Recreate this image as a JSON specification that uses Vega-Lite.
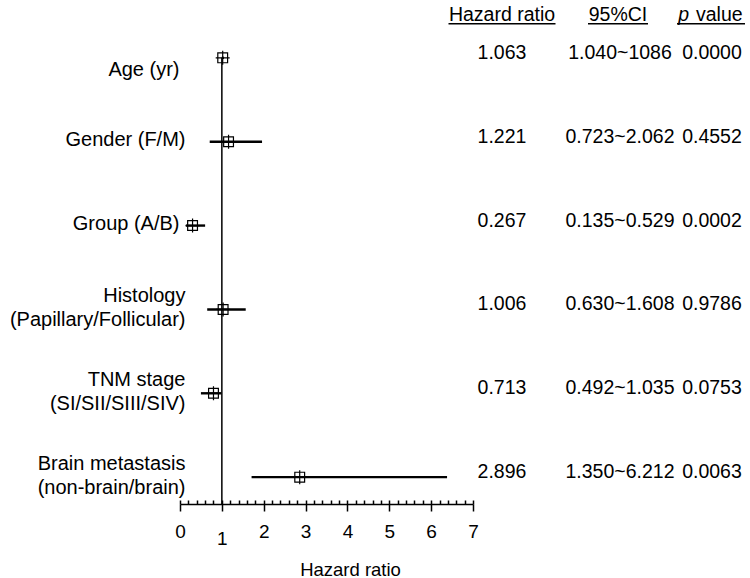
{
  "$schema": "https://vega.github.io/schema/vega-lite/v6.json",
  "padding": {"left": 9, "top": 4, "right": 2, "bottom": 2},
  "bounds": "flush",
  "spacing": 0,
  "config": {
    "view": {"stroke": null},
    "font": "Liberation Sans",
    "text": {"font": "Liberation Sans", "color": "black"}
  },
  "data": {
    "values": [
      {"label": "Age (yr)", "est": 1.02, "low": 1.0, "high": 1.05, "hr": "1.063", "ci": "1.040~1086", "p": "0.0000"},
      {"label": "Gender (F/M)", "est": 1.16, "low": 0.71, "high": 1.96, "hr": "1.221", "ci": "0.723~2.062", "p": "0.4552"},
      {"label": "Group (A/B)", "est": 0.3, "low": 0.14, "high": 0.6, "hr": "0.267", "ci": "0.135~0.529", "p": "0.0002"},
      {"label": "Histology|(Papillary/Follicular)", "est": 1.03, "low": 0.65, "high": 1.57, "hr": "1.006", "ci": "0.630~1.608", "p": "0.9786"},
      {"label": "TNM stage|(SI/SII/SIII/SIV)", "est": 0.8, "low": 0.5, "high": 0.99, "hr": "0.713", "ci": "0.492~1.035", "p": "0.0753"},
      {"label": "Brain metastasis|(non-brain/brain)", "est": 2.86, "low": 1.71, "high": 6.38, "hr": "2.896", "ci": "1.350~6.212", "p": "0.0063"}
    ]
  },
  "hconcat": [
    {
      "width": 293,
      "height": 473,
      "resolve": {"axis": {"x": "independent"}},
      "layer": [
        {
          "data": {"values": [{"ref": 1}]},
          "mark": {"type": "rule", "color": "black", "strokeWidth": 1.5},
          "encoding": {
            "x": {"field": "ref", "type": "quantitative", "axis": null},
            "y": {"datum": "Age (yr)"},
            "y2": {"value": "height"}
          }
        },
        {
          "mark": {"type": "rule", "color": "black", "strokeWidth": 2.4},
          "encoding": {
            "x": {
              "field": "low", "type": "quantitative", "title": null,
              "axis": {
                "orient": "bottom",
                "values": [0, 0.2, 0.4, 0.6, 0.8, 1, 1.2, 1.4, 1.6, 1.8, 2, 2.2, 2.4, 2.6, 2.8, 3, 3.2, 3.4, 3.6, 3.8, 4, 4.2, 4.4, 4.6, 4.8, 5, 5.2, 5.4, 5.6, 5.8, 6, 6.2, 6.4, 6.6, 6.8, 7],
                "labels": false,
                "domain": false,
                "grid": false,
                "tickSize": -4,
                "tickColor": "black",
                "tickWidth": 1.5,
                "title": null
              }
            },
            "x2": {"field": "high"},
            "y": {"field": "label", "type": "nominal"}
          }
        },
        {
          "mark": {"type": "point", "shape": "M-0.7,-0.7H0.7V0.7H-0.7ZM-1,0H1M0,-1V1", "filled": false, "stroke": "black", "strokeWidth": 1.2, "size": 196, "opacity": 1},
          "encoding": {
            "x": {
              "field": "est", "type": "quantitative", "title": "Hazard ratio",
              "scale": {"domain": [0, 7], "nice": false, "zero": true},
              "axis": {
                "orient": "bottom",
                "values": [0, 1, 2, 3, 4, 5, 6, 7],
                "tickSize": 7,
                "tickColor": "black",
                "tickWidth": 1.5,
                "domainColor": "black",
                "domainWidth": 1.5,
                "grid": false,
                "labelFontSize": 19,
                "labelColor": "black",
                "labelFont": "Liberation Sans",
                "labelPadding": {"condition": {"test": "datum.value === 1", "value": 18}, "value": 11},
                "labelOverlap": false,
                "labelFlush": false,
                "titleFont": "Liberation Sans",
                "titleFontSize": 18.5,
                "titleFontWeight": "normal",
                "titleColor": "black",
                "titlePadding": 12,
                "titleX": 170
              }
            },
            "y": {
              "field": "label", "type": "nominal", "sort": null,
              "scale": {"type": "point", "padding": 0.32, "domain": ["Age (yr)", "Gender (F/M)", "Group (A/B)", "Histology|(Papillary/Follicular)", "TNM stage|(SI/SII/SIII/SIV)", "Brain metastasis|(non-brain/brain)"]},
              "axis": {
                "title": null,
                "domain": false,
                "ticks": false,
                "grid": false,
                "labelExpr": "split(datum.value, '|')",
                "labelFont": "Liberation Sans",
                "labelFontSize": 20,
                "labelLineHeight": 24,
                "labelColor": "black",
                "labelPadding": {"condition": {"test": "datum.value === 'Group (A/B)' || datum.value === 'Age (yr)'", "value": 1}, "value": -5},
                "labelLimit": 400,
                "labelOffset": {"condition": [{"test": "datum.value === 'Age (yr)'", "value": 12}, {"test": "indexof(datum.value, '|') >= 0", "value": -14}], "value": -2}
              }
            }
          }
        }
      ]
    },
    {
      "width": 58,
      "height": 473,
      "layer": [
        {
          "mark": {"type": "text", "fontSize": 19.5, "dy": -5},
          "encoding": {
            "y": {"field": "label", "type": "nominal", "sort": null, "axis": null,
              "scale": {"type": "point", "padding": 0.32, "domain": ["Age (yr)", "Gender (F/M)", "Group (A/B)", "Histology|(Papillary/Follicular)", "TNM stage|(SI/SII/SIII/SIV)", "Brain metastasis|(non-brain/brain)"]}},
            "text": {"field": "hr"}
          }
        },
        {
          "data": {"values": [{"h": "Hazard ratio"}]},
          "mark": {"type": "text", "fontSize": 19.5, "dy": -43},
          "encoding": {"y": {"datum": "Age (yr)"}, "text": {"field": "h"}}
        },
        {
          "data": {"values": [{"h": "Hazard ratio"}]},
          "mark": {"type": "tick", "orient": "horizontal", "size": 107, "thickness": 1.5, "yOffset": -34, "color": "black", "opacity": 1},
          "encoding": {"y": {"datum": "Age (yr)"}}
        }
      ]
    },
    {
      "width": 178,
      "height": 473,
      "layer": [
        {
          "mark": {"type": "text", "fontSize": 19.5, "dy": -5},
          "encoding": {
            "y": {"field": "label", "type": "nominal", "sort": null, "axis": null,
              "scale": {"type": "point", "padding": 0.32, "domain": ["Age (yr)", "Gender (F/M)", "Group (A/B)", "Histology|(Papillary/Follicular)", "TNM stage|(SI/SII/SIII/SIV)", "Brain metastasis|(non-brain/brain)"]}},
            "text": {"field": "ci"}
          }
        },
        {
          "data": {"values": [{"h": "95%CI"}]},
          "mark": {"type": "text", "fontSize": 19.5, "dy": -43, "dx": -2},
          "encoding": {"y": {"datum": "Age (yr)"}, "text": {"field": "h"}}
        },
        {
          "data": {"values": [{"h": "95%CI"}]},
          "mark": {"type": "tick", "orient": "horizontal", "size": 60, "thickness": 1.5, "yOffset": -34, "xOffset": -2, "color": "black", "opacity": 1},
          "encoding": {"y": {"datum": "Age (yr)"}}
        }
      ]
    },
    {
      "width": 6,
      "height": 473,
      "layer": [
        {
          "mark": {"type": "text", "fontSize": 19.5, "dy": -5},
          "encoding": {
            "y": {"field": "label", "type": "nominal", "sort": null, "axis": null,
              "scale": {"type": "point", "padding": 0.32, "domain": ["Age (yr)", "Gender (F/M)", "Group (A/B)", "Histology|(Papillary/Follicular)", "TNM stage|(SI/SII/SIII/SIV)", "Brain metastasis|(non-brain/brain)"]}},
            "text": {"field": "p"}
          }
        },
        {
          "data": {"values": [{"h": "p"}]},
          "mark": {"type": "text", "fontSize": 19.5, "fontStyle": "italic", "align": "right", "dy": -43, "dx": -23},
          "encoding": {"y": {"datum": "Age (yr)"}, "text": {"field": "h"}}
        },
        {
          "data": {"values": [{"h": "value"}]},
          "mark": {"type": "text", "fontSize": 19.5, "align": "left", "dy": -43, "dx": -16},
          "encoding": {"y": {"datum": "Age (yr)"}, "text": {"field": "h"}}
        },
        {
          "data": {"values": [{"h": "p value"}]},
          "mark": {"type": "tick", "orient": "horizontal", "size": 68, "thickness": 1.5, "yOffset": -34, "xOffset": -1, "color": "black", "opacity": 1},
          "encoding": {"y": {"datum": "Age (yr)"}}
        }
      ]
    }
  ]
}
